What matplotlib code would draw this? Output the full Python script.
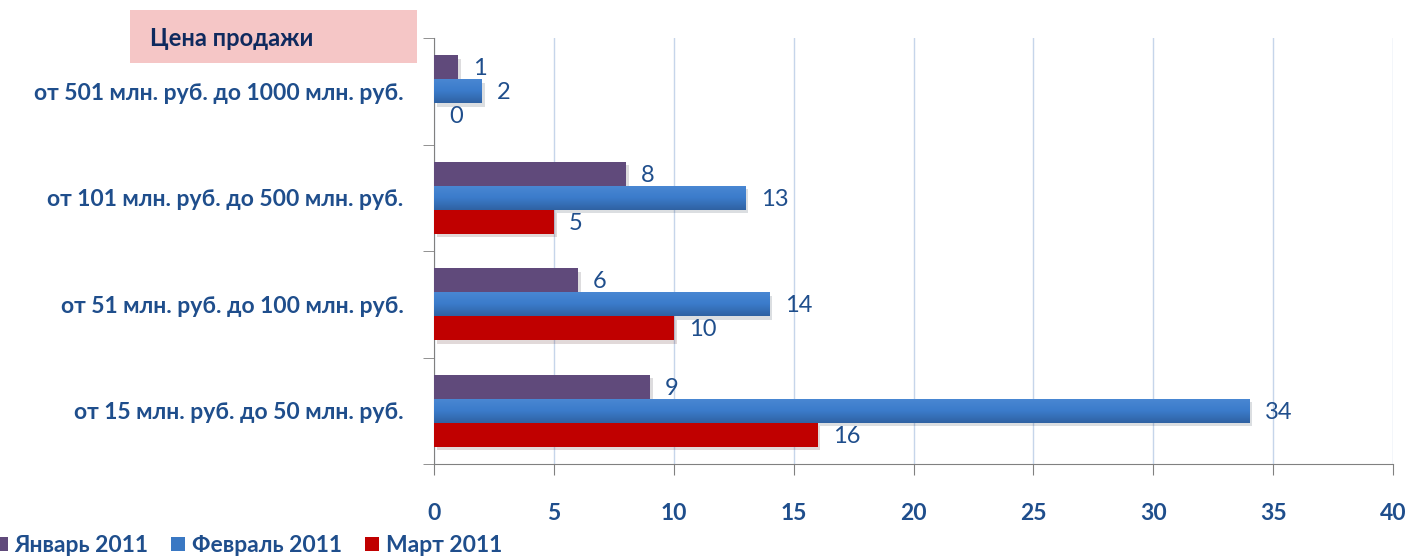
import matplotlib
matplotlib.use("Agg")
import matplotlib.pyplot as plt
import matplotlib.patheffects as pe
from matplotlib.colors import LinearSegmentedColormap
from matplotlib.patches import Rectangle, Patch
import numpy as np

categories = ["от 15 млн. руб. до 50 млн. руб.",
              "от 51 млн. руб. до 100 млн. руб.",
              "от 101 млн. руб. до 500 млн. руб.",
              "от 501 млн. руб. до 1000 млн. руб."]
series_names = ["Январь 2011", "Февраль 2011", "Март 2011"]
jan = [9, 6, 8, 1]
feb = [34, 14, 13, 2]
mar = [16, 10, 5, 0]
x_ticks = [0, 5, 10, 15, 20, 25, 30, 35, 40]
title = "Цена продажи"

COLORS = ["#604A7B", "#3A78C3", "#C00000"]
TXT = "#1F4E8C"
FONT = ["Lato", "DejaVu Sans"]

plt.rcParams["font.family"] = FONT

fig = plt.figure(figsize=(14.1, 5.6), dpi=100)
ax = fig.add_axes([434 / 1410, 1 - 464 / 560, 959 / 1410, 426 / 560])

y = np.arange(len(categories))
h = 0.226
shadow = [pe.SimplePatchShadow(offset=(2, -2.5), alpha=0.15), pe.Normal()]
blue_grad = LinearSegmentedColormap.from_list("bg", ["#2F62A3", "#3B7CCB", "#4A88D3"])
grad = np.linspace(0, 1, 50).reshape(-1, 1)
for k, (vals, off, col) in enumerate(zip([jan, feb, mar], [h, 0, -h], COLORS)):
    bars = ax.barh(y + off, vals, height=h, color=col, zorder=3)
    for b in bars:
        b.set_path_effects(shadow)
        if k == 1 and b.get_width() > 0:
            x0, y0 = b.get_x(), b.get_y()
            im = ax.imshow(grad, cmap=blue_grad, aspect="auto", origin="lower",
                           extent=(x0, x0 + b.get_width(), y0, y0 + b.get_height()),
                           zorder=3.5)
            im.set_clip_path(b)
    for yi, v in zip(y + off, vals):
        ax.annotate(str(v), (v, yi), xytext=(11, -1), textcoords="offset points",
                    ha="left", va="center", fontsize=17, color=TXT, zorder=4)

ax.set_xlim(0, 40)
ax.set_ylim(-0.5, 3.5)
ax.set_xticks(x_ticks)
ax.set_xticklabels([str(t) for t in x_ticks], fontsize=16.5, fontweight="bold", color=TXT)
ax.tick_params(axis="x", length=8, color="#808080", pad=20)
ax.set_yticks(y)
ax.set_yticklabels(categories, fontsize=16.5, fontweight="bold", color=TXT)
ax.tick_params(axis="y", length=0, pad=22)
ax.set_yticks(np.arange(-0.5, 4, 1), minor=True)
ax.tick_params(axis="y", which="minor", length=8, color="#808080")
ax.grid(axis="x", color="#C6D5EA", linewidth=1, zorder=0)
for s in ["top", "right"]:
    ax.spines[s].set_visible(False)
for s in ["left", "bottom"]:
    ax.spines[s].set_color("#808080")

# title box
fig.patches.append(Rectangle((130 / 1410, 1 - 63 / 560), 287 / 1410, 53 / 560,
                             transform=fig.transFigure, facecolor="#F5C6C6",
                             edgecolor="none", zorder=0))
fig.text(150 / 1410, 1 - 38 / 560, title, ha="left", va="center",
         fontsize=17, fontweight="bold", color="#0F2A5E")

handles = [Patch(facecolor=c) for c in COLORS]
leg = fig.legend(handles, series_names, loc="lower left", bbox_to_anchor=(-0.019, -0.03),
                 ncol=3, frameon=False, handlelength=0.6, handleheight=0.6,
                 handletextpad=0.3, columnspacing=1.0,
                 prop={"size": 16.5, "weight": "bold"})
for t in leg.get_texts():
    t.set_color(TXT)

fig.savefig("out.png", dpi=100)
